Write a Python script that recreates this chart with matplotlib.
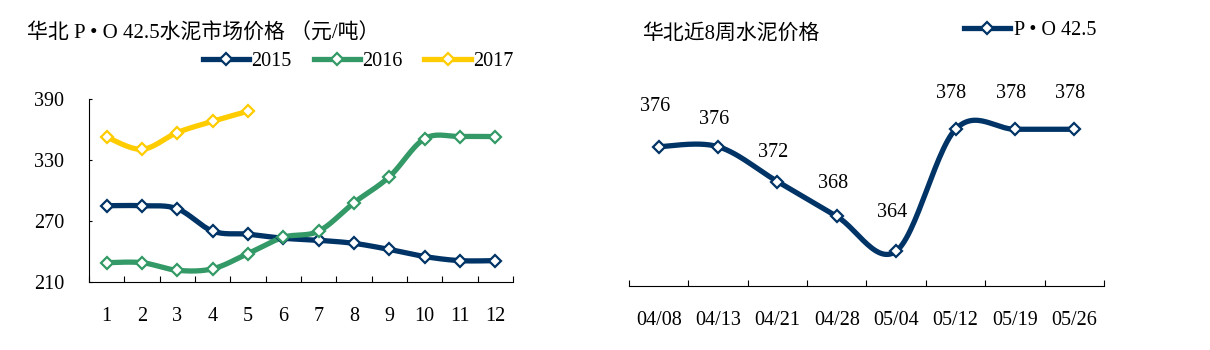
import matplotlib
matplotlib.use('Agg')
import matplotlib.pyplot as plt
import numpy as np
from matplotlib.lines import Line2D

plt.rcParams['font.family'] = ['Liberation Serif', 'Noto Sans CJK SC']

# Monthly North China P.O 42.5 cement price (yuan/ton)
months = list(range(1, 13))
price_2015 = [285, 285, 282, 260, 257, 253, 251, 248, 242, 235, 231, 231]
price_2016 = [229, 229, 221.5, 223, 238, 254, 260, 288, 313.5, 351, 353, 353]
price_2017 = [352.5, 340.5, 357, 368, 378]

# Last 8 weeks
weeks = ['04/08', '04/13', '04/21', '04/28', '05/04', '05/12', '05/19', '05/26']
week_price = [376, 376, 372, 368, 364, 378, 378, 378]

navy = '#003366'
green = '#339966'
yellow = '#FFCC00'


def smooth(x, y, n=30):
    # Catmull-Rom style bezier smoothing through every point
    p = np.column_stack([x, y]).astype(float)
    p = np.vstack([p[0], p, p[-1]])
    out = []
    for i in range(1, len(p) - 2):
        p0, p1, p2, p3 = p[i - 1], p[i], p[i + 1], p[i + 2]
        c1 = p1 + (p2 - p0) / 6
        c2 = p2 - (p3 - p1) / 6
        t = np.linspace(0, 1, n)[:, None]
        seg = ((1 - t) ** 3 * p1 + 3 * (1 - t) ** 2 * t * c1
               + 3 * (1 - t) * t ** 2 * c2 + t ** 3 * p2)
        out.append(seg if i == 1 else seg[1:])
    out = np.vstack(out)
    return out[:, 0], out[:, 1]


def draw_series(ax, x, y, color):
    sx, sy = smooth(x, y)
    ax.plot(sx, sy, color=color, lw=3.8, solid_capstyle='butt', zorder=2)
    ax.plot(x, y, ls='none', marker='D', ms=6, mfc='white', mec=color,
            mew=1.6, zorder=3)


fig = plt.figure(figsize=(12.1, 3.5), dpi=100)

# ---- left: monthly prices
ax1 = fig.add_axes([0.0736, 0.1943, 0.3504, 0.523])
draw_series(ax1, months, price_2015, navy)
draw_series(ax1, months, price_2016, green)
draw_series(ax1, months[:len(price_2017)], price_2017, yellow)
ax1.set_xlim(0.5, 12.5)
ax1.set_ylim(210, 390)
ax1.set_yticks([210, 270, 330, 390])
ax1.set_xticks(np.arange(0.5, 13, 1))
ax1.set_xticks(months, minor=True)
ax1.set_xticklabels([])
ax1.set_xticklabels([str(m) for m in months], minor=True)
ax1.tick_params(axis='x', which='major', direction='in', length=4, width=0.8)
ax1.tick_params(axis='x', which='minor', length=0, pad=18, labelsize=14.5)
ax1.tick_params(axis='y', direction='in', length=2.5, width=0.8, pad=18,
                labelsize=14.5)
for s in ['top', 'right']:
    ax1.spines[s].set_visible(False)
for s in ['left', 'bottom']:
    ax1.spines[s].set_linewidth(0.8)

fig.text(0.022, 0.903, '华北 P • O 42.5水泥市场价格 （元/吨）', fontsize=15,
         va='center', ha='left')

handles = [Line2D([], [], color=c, lw=3.8, marker='D', ms=6, mfc='white',
                  mec=c, mew=1.6) for c in (navy, green, yellow)]
fig.legend(handles, ['2015', '2016', '2017'], loc='center left',
           bbox_to_anchor=(0.161, 0.823), ncol=3, frameon=False, fontsize=14.5,
           handlelength=2.3, handletextpad=0.1, columnspacing=1.1,
           borderaxespad=0)

# ---- right: last 8 weeks
ax2 = fig.add_axes([0.5198, 0.1829, 0.3926, 0.597])
xw = np.arange(len(weeks))
draw_series(ax2, xw, week_price, navy)
label_dy = [40, 27, 29, 33, 39, 36, 36, 36]
for xi, v, dy in zip(xw, week_price, label_dy):
    ax2.annotate(str(v), (xi, v), xytext=(-4, dy), textcoords='offset pixels',
                 ha='center', va='center', fontsize=14.5)
ax2.set_xlim(-0.5, len(weeks) - 0.5)
ax2.set_ylim(360, 384)
ax2.set_yticks([])
ax2.set_xticks(np.arange(-0.5, len(weeks), 1))
ax2.set_xticks(xw, minor=True)
ax2.set_xticklabels([])
ax2.set_xticklabels(weeks, minor=True)
ax2.tick_params(axis='x', which='major', direction='in', length=4, width=0.8)
ax2.tick_params(axis='x', which='minor', length=0, pad=18, labelsize=14.5)
for s in ['top', 'right', 'left']:
    ax2.spines[s].set_visible(False)
ax2.spines['bottom'].set_linewidth(0.8)

fig.text(0.531, 0.903, '华北近8周水泥价格', fontsize=15, va='center', ha='left')
h2 = Line2D([], [], color=navy, lw=3.8, marker='D', ms=6, mfc='white',
            mec=navy, mew=1.6)
fig.legend([h2], ['P • O 42.5'], loc='center left',
           bbox_to_anchor=(0.790, 0.912), frameon=False, fontsize=14.5,
           handlelength=2.3, handletextpad=0.2, borderaxespad=0)

fig.savefig('out.png', dpi=100)
